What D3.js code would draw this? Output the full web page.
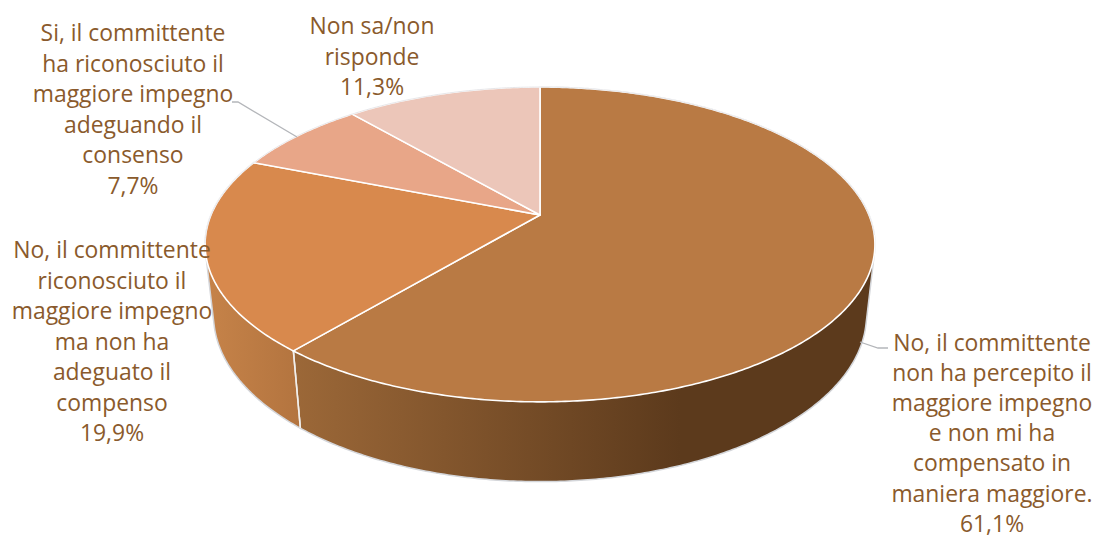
<!DOCTYPE html>
<html>
<head>
<meta charset="utf-8">
<script src="https://cdnjs.cloudflare.com/ajax/libs/d3/7.8.5/d3.min.js"></script>
<style>
html, body { margin: 0; padding: 0; background: #fff; }
svg { display: block; }
text { font-family: "Open Sans", "Noto Sans", sans-serif; font-size: 22.9px; fill: #8a5a2c; text-anchor: middle; }
</style>
</head>
<body>
<svg id="chart" width="1094" height="539"></svg>
<script>
// Data, clockwise from 12 o'clock
const values = [61.1, 19.9, 7.7, 11.3];
const labels = [
    ["No, il committente", "non ha percepito il", "maggiore impegno", "e non mi ha", "compensato in", "maniera maggiore."],
    ["No, il committente", "riconosciuto il", "maggiore impegno", "ma non ha", "adeguato il", "compenso"],
    ["Si, il committente", "ha riconosciuto il", "maggiore impegno", "adeguando il", "consenso"],
    ["Non sa/non", "risponde"]
];
const colors = ["#b97a44", "#d8894d", "#e8a688", "#ecc6b9"];

// Label anchors: centre x, first baseline, line spacing
const labelPos = [[992, 351, 30.1], [112, 258, 30.5], [133, 41, 30.5], [372, 34, 30.5]];

const svg = d3.select("#chart");

// Perspective projection of the disc; h = 0 is the top face, h = 1 the bottom rim
const cx = 540, cy = 215, R = 329;
function project(theta, h) {
    const u = Math.sin(theta), v = -Math.cos(theta);
    const w = 1 - 0.187 * v + 0.025 * h;
    return [cx + R * u / w, (cy + 111.7 * v + 76.9 * h) / w];
}

const pie = d3.pie().sort(null)(values);
const line = d3.line();

function rim(a, b, h) {
    const n = Math.max(2, Math.ceil((b - a) / 0.01));
    return d3.range(n + 1).map(i => project(a + (b - a) * i / n, h));
}

// Side shading
const defs = svg.append("defs");
function gradient(id, x1, x2, stops) {
    const g = defs.append("linearGradient").attr("id", id)
        .attr("gradientUnits", "userSpaceOnUse")
        .attr("x1", x1).attr("x2", x2).attr("y1", 0).attr("y2", 0);
    stops.forEach(s => g.append("stop").attr("offset", s[0]).attr("stop-color", s[1]));
}
gradient("side0", 293, 680, [[0, "#9c6838"], [1, "#5c3a1c"]]);
gradient("side1", 205, 300, [[0, "#c68349"], [1, "#b3743f"]]);

// Side walls (only the two front slices show one)
pie.slice(0, 2).forEach((d, i) => {
    const pts = rim(d.startAngle, d.endAngle, 0).concat(rim(d.startAngle, d.endAngle, 1));
    svg.append("path")
        .attr("d", line(d3.polygonHull(pts)) + "Z")
        .attr("fill", `url(#side${i})`)
        .attr("stroke", "#d4d6da")
        .attr("stroke-width", 1.5);
});

// Edge between the two walls
const seam = pie[0].endAngle;
svg.append("path")
    .attr("d", line([project(seam, 0), project(seam, 1)]))
    .attr("stroke", "#f4efe9")
    .attr("stroke-width", 1.5);

// Top face
pie.forEach((d, i) => {
    svg.append("path")
        .attr("d", line([[cx, cy]].concat(rim(d.startAngle, d.endAngle, 0))) + "Z")
        .attr("fill", colors[i])
        .attr("stroke", "#fff")
        .attr("stroke-width", 1.6)
        .attr("stroke-linejoin", "round");
});

// Thin grey rim on the far edge
svg.append("path")
    .attr("d", line(rim(-1.75, 1.7, 0)))
    .attr("fill", "none")
    .attr("stroke", "#dfe0e3")
    .attr("stroke-width", 0.8);

// Leader lines
[[[860, 342], [878, 348], [888, 348]], [[297, 137], [238, 102], [232, 102]]].forEach(p => {
    svg.append("path")
        .attr("d", line(p))
        .attr("fill", "none")
        .attr("stroke", "#b4b6ba")
        .attr("stroke-width", 1.3);
});

// Labels
const fmt = d3.format(".1f");
labels.forEach((lines, i) => {
    const t = svg.append("text");
    lines.concat(fmt(values[i]).replace(".", ",") + "%").forEach((s, j) => {
        t.append("tspan")
            .attr("x", labelPos[i][0])
            .attr("y", labelPos[i][1] + j * labelPos[i][2])
            .text(s);
    });
});
</script>
</body>
</html>
